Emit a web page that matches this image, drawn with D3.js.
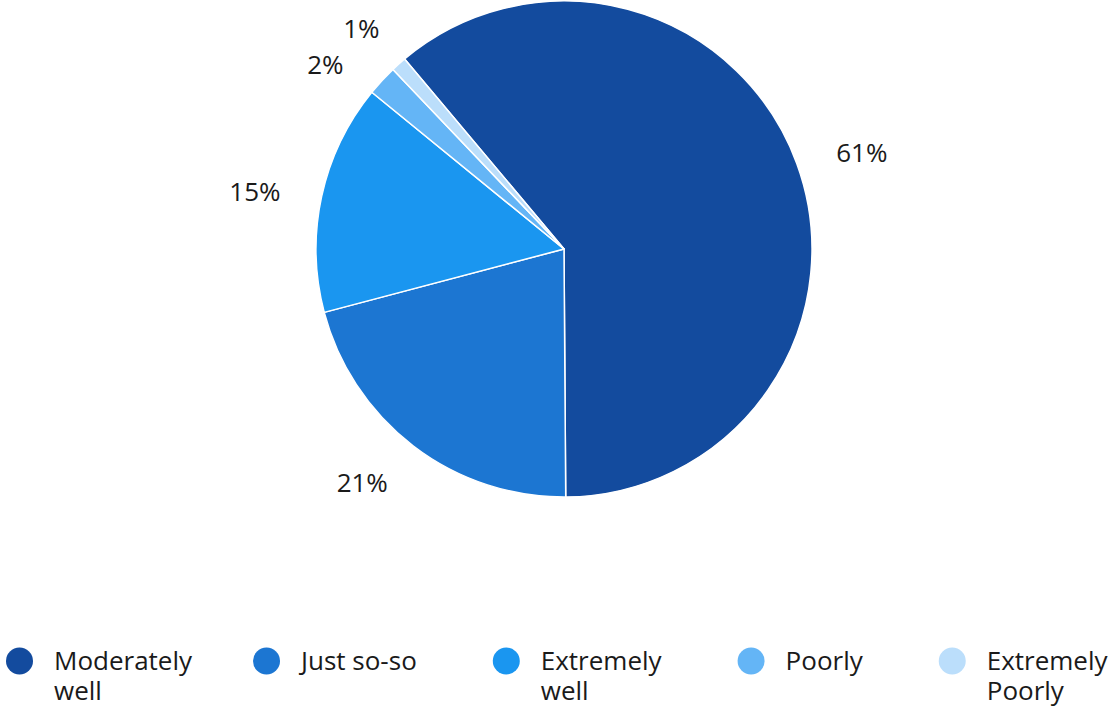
<!DOCTYPE html>
<html>
<head>
<meta charset="utf-8">
<script src="https://cdn.jsdelivr.net/npm/d3@7"></script>
<style>
  html, body { margin: 0; padding: 0; background: #fff; }
  svg { display: block; font-family: "Open Sans", "Noto Sans", sans-serif; }
</style>
</head>
<body>
<svg id="chart" width="1116" height="709"></svg>
<script>
// Survey answers and their shares (percent)
const categories = ["Moderately well", "Just so-so", "Extremely well", "Poorly", "Extremely Poorly"];
const shares = [61, 21, 15, 2, 1];
const colors = ["#134b9e", "#1c76d2", "#1a96f0", "#64b5f6", "#bbdefb"];

const W = 1116, H = 709;
const cx = 564, cy = 249, R = 248;
const startDeg = -40;

const svg = d3.select("#chart");
const data = categories.map((c, i) => ({ name: c, value: shares[i], color: colors[i] }));

const pie = d3.pie()
  .value(d => d.value)
  .sort(null)
  .startAngle(startDeg * Math.PI / 180)
  .endAngle((startDeg + 360) * Math.PI / 180);
const arcs = pie(data);

const arc = d3.arc().innerRadius(0).outerRadius(R);

const g = svg.append("g").attr("transform", `translate(${cx},${cy})`);
g.selectAll("path.slice")
  .data(arcs)
  .join("path")
  .attr("class", "slice")
  .attr("d", arc)
  .attr("fill", d => d.data.color)
  .attr("stroke", "#fff")
  .attr("stroke-width", 1.5)
  .attr("stroke-linejoin", "round");

// Label angles: slice mid-angle, spread apart where neighbours crowd
const minGap = 10 * Math.PI / 180;
const labelAng = arcs.map(a => (a.startAngle + a.endAngle) / 2);
for (let iter = 0; iter < 20; iter++) {
  for (let i = 1; i < labelAng.length; i++) {
    const gap = labelAng[i] - labelAng[i - 1];
    if (gap < minGap) {
      const push = (minGap - gap) / 2;
      labelAng[i - 1] -= push;
      labelAng[i] += push;
    }
  }
}
const labelR = R + 42;

g.selectAll("text.pct")
  .data(arcs)
  .join("text")
  .attr("class", "pct")
  .each(function (d, i) {
    const a = labelAng[i];
    const x = Math.sin(a) * labelR;
    const y = -Math.cos(a) * labelR;
    d3.select(this)
      .attr("x", x)
      .attr("y", y)
      .attr("dy", "0.5em")
      .attr("text-anchor", x >= 0 ? "start" : "end");
  })
  .attr("font-size", 26)
  .attr("fill", "#1a1a1a")
  .text(d => d.data.value + "%");

// Legend: dot + wrapped label, laid out left to right
const legendFont = 26, lineH = 30, wrapMax = 130, boxCap = 123;
const dotR = 13.5, dotGap = 36, itemPad = 88;
const baseY = 670, dotY = 661;

const legend = svg.append("g").attr("class", "legend");
let xCursor = 6;

// measure helper
const meas = svg.append("text").attr("font-size", legendFont).attr("visibility", "hidden");
function tw(s) { meas.text(s); return meas.node().getComputedTextLength(); }

data.forEach(d => {
  const words = d.name.split(" ");
  const lines = [];
  let cur = "";
  words.forEach(w => {
    const test = cur ? cur + " " + w : w;
    if (cur && tw(test) > wrapMax) { lines.push(cur); cur = w; }
    else cur = test;
  });
  if (cur) lines.push(cur);
  const textW = d3.max(lines, l => tw(l));

  const item = legend.append("g").attr("transform", `translate(${xCursor},0)`);
  item.append("circle")
    .attr("cx", dotR)
    .attr("cy", dotY)
    .attr("r", dotR)
    .attr("fill", d.color);
  const t = item.append("text")
    .attr("x", dotGap + 12)
    .attr("y", baseY)
    .attr("font-size", legendFont)
    .attr("fill", "#1a1a1a");
  lines.forEach((l, k) => {
    t.append("tspan").attr("x", dotGap + 12).attr("y", baseY + k * lineH).text(l);
  });
  xCursor += dotGap + Math.min(textW, boxCap) + itemPad;
});
meas.remove();
</script>
</body>
</html>
